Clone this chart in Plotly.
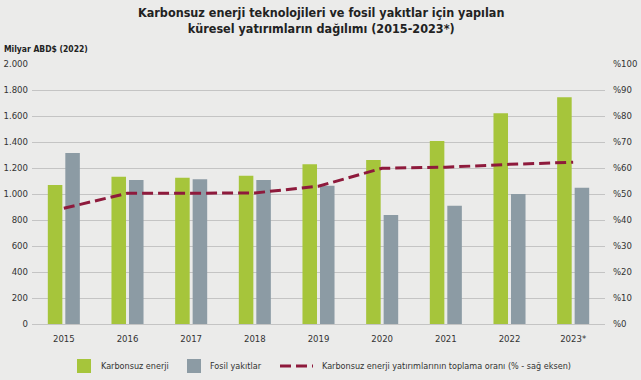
import plotly.graph_objects as go

years = ["2015", "2016", "2017", "2018", "2019", "2020", "2021", "2022", "2023*"]
karbonsuz = [1070, 1133, 1125, 1141, 1228, 1262, 1408, 1621, 1744]
fosil = [1315, 1108, 1113, 1108, 1064, 838, 910, 1000, 1049]
oran = [44.5, 50.3, 50.3, 50.4, 53.0, 59.9, 60.3, 61.4, 62.2]

left_ticks = [0, 200, 400, 600, 800, 1000, 1200, 1400, 1600, 1800, 2000]
left_labels = ["0", "200", "400", "600", "800", "1.000", "1.200", "1.400", "1.600", "1.800", "2.000"]
right_ticks = [0, 10, 20, 30, 40, 50, 60, 70, 80, 90, 100]
right_labels = ["%" + str(v) for v in right_ticks]

names = ["Karbonsuz enerji", "Fosil yakıtlar",
         "Karbonsuz enerji yatırımlarının toplama oranı (% - sağ eksen)"]

GREEN = "#a6c53b"
GRAY = "#8c9ba4"
RED = "#8e1a3c"
BG = "#ebebea"
TXT = "#333333"
FONT = "Liberation Sans Narrow, DejaVu Sans Condensed, Roboto, sans-serif"
DASH = "11px,5px"

L, T, PW, PH = 32, 64, 573, 260  # plot area position/size in px


def px(x):
    return (x - L) / PW


def py(y):
    return (T + PH - y) / PH


fig = go.Figure()
fig.add_trace(go.Bar(x=years, y=karbonsuz, name=names[0], showlegend=False,
                     marker=dict(color=GREEN, line=dict(width=0))))
fig.add_trace(go.Bar(x=years, y=fosil, name=names[1], showlegend=False,
                     marker=dict(color=GRAY, line=dict(width=0))))
fig.add_trace(go.Scatter(x=years, y=oran, yaxis="y2", mode="lines", name=names[2],
                         showlegend=False, line=dict(color=RED, width=3, dash=DASH)))

# legend drawn manually (larger square keys like the reference)
shapes = [
    dict(type="rect", xref="paper", yref="paper", x0=px(77), x1=px(91), y0=py(373), y1=py(359),
         fillcolor=GREEN, line=dict(width=0)),
    dict(type="rect", xref="paper", yref="paper", x0=px(187), x1=px(201), y0=py(373), y1=py(359),
         fillcolor=GRAY, line=dict(width=0)),
    dict(type="line", xref="paper", yref="paper", x0=px(280), x1=px(313), y0=py(366), y1=py(366),
         line=dict(color=RED, width=3, dash=DASH)),
]
legend_text = [(names[0], 99), (names[1], 208), (names[2], 320)]

annotations = [
    dict(text="<b>Karbonsuz enerji teknolojileri ve fosil yakıtlar için yapılan<br>küresel yatırımların dağılımı (2015-2023*)</b>",
         xref="paper", yref="paper", x=px(321), y=py(3),
         xanchor="center", yanchor="top", showarrow=False, align="center",
         font=dict(family=FONT, size=12.5, color="#222222")),
    dict(text="<b>Milyar ABD$ (2022)</b>", xref="paper", yref="paper",
         x=px(2), y=py(49), xanchor="left", yanchor="middle",
         showarrow=False, font=dict(size=8.5, color="#222222")),
]
for t, x0 in legend_text:
    annotations.append(dict(text=t, xref="paper", yref="paper", x=px(x0), y=py(366),
                            xanchor="left", yanchor="middle", showarrow=False,
                            font=dict(size=9, color=TXT)))

fig.update_layout(
    width=641, height=380,
    margin=dict(l=L, r=641 - L - PW, t=T, b=380 - T - PH, autoexpand=False),
    paper_bgcolor=BG, plot_bgcolor=BG,
    font=dict(family=FONT, size=10, color=TXT),
    barmode="group", bargap=0.45, bargroupgap=0.17,
    showlegend=False,
    xaxis=dict(showgrid=False, showline=True, linecolor="#c4c4c4", linewidth=1,
               ticks="", tickfont=dict(size=9.5, color=TXT),
               ticklabelstandoff=6, automargin=False),
    yaxis=dict(range=[0, 2000], tickvals=left_ticks, ticktext=left_labels,
               showgrid=True, gridcolor="#c4c4c4", gridwidth=1, zeroline=False,
               ticks="", tickfont=dict(size=9.5, color=TXT),
               ticklabelstandoff=3, automargin=False),
    yaxis2=dict(range=[0, 100], tickvals=right_ticks, ticktext=right_labels,
                overlaying="y", side="right", showgrid=False, zeroline=False,
                ticks="", tickfont=dict(size=9.5, color=TXT),
                ticklabelstandoff=7, automargin=False),
    shapes=shapes,
    annotations=annotations,
)

fig.write_html("out.html")
